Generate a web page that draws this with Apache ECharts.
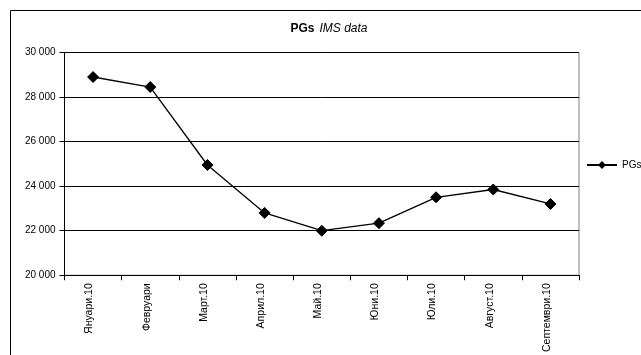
<!DOCTYPE html>
<html>
<head>
<meta charset="utf-8">
<script src="https://cdn.jsdelivr.net/npm/echarts@6/dist/echarts.min.js"></script>
<style>
  html, body { margin: 0; padding: 0; background: #fff; }
  #chart { width: 641px; height: 355px; }
</style>
</head>
<body>
<div id="chart"></div>
<script>
// Monthly PGs volumes (IMS data), 2010
const months = ['Януари.10', 'Февруари', 'Март.10', 'Април.10', 'Май.10', 'Юни.10', 'Юли.10', 'Август.10', 'Септември.10'];
const pgsValues = [28900, 28450, 24950, 22800, 22000, 22340, 23500, 23850, 23200];
const yTicks = [20000, 22000, 24000, 26000, 28000, 30000];

const font = '"Liberation Sans", Arial, sans-serif';
const fmt = v => {
  const s = String(Math.round(v));
  return s.replace(/\B(?=(\d{3})+(?!\d))/g, ' ');
};

const chart = echarts.init(document.getElementById('chart'), null, { renderer: 'canvas' });
chart.setOption({
  animation: false,
  backgroundColor: '#fff',
  textStyle: { fontFamily: font },
  title: {
    text: '{b|PGs} {i|IMS data}',
    left: 329,
    top: 20,
    padding: 0,
    textAlign: 'center',
    textStyle: {
      rich: {
        b: { fontFamily: font, fontWeight: 'bold', fontSize: 12, color: '#000' },
        i: { fontFamily: font, fontWeight: 'normal', fontStyle: 'italic', fontSize: 12, color: '#000' }
      }
    }
  },
  legend: {
    data: ['PGs'],
    left: 586,
    top: 160,
    padding: 0,
    itemWidth: 30,
    itemHeight: 10,
    itemGap: 5,
    textStyle: { fontFamily: font, fontSize: 10, color: '#000' }
  },
  grid: {
    left: 64.5,
    right: 62,
    top: 52.5,
    bottom: 76.5,
    show: true,
    borderColor: '#808080',
    borderWidth: 1,
    containLabel: false
  },
  xAxis: {
    type: 'category',
    data: months,
    boundaryGap: true,
    axisLine: { lineStyle: { color: '#000', width: 1 } },
    axisTick: { show: true, alignWithLabel: false, length: 5, lineStyle: { color: '#000' } },
    axisLabel: {
      rotate: 90,
      interval: 0,
      margin: 8,
      fontSize: 10.5,
      verticalAlign: 'bottom',
      padding: [0, 0, -2, 0],
      color: '#000',
      fontFamily: font
    }
  },
  yAxis: {
    type: 'value',
    min: yTicks[0],
    max: yTicks[yTicks.length - 1],
    interval: 2000,
    axisLine: { show: true, lineStyle: { color: '#000', width: 1 } },
    axisTick: { show: true, length: 5, lineStyle: { color: '#000' } },
    axisLabel: {
      margin: 9,
      fontSize: 10,
      color: '#000',
      fontFamily: font,
      formatter: fmt
    },
    splitLine: { show: true, lineStyle: { color: '#000', width: 1 } }
  },
  series: [{
    name: 'PGs',
    type: 'line',
    data: pgsValues,
    symbol: 'diamond',
    symbolSize: 11,
    showAllSymbol: true,
    lineStyle: { color: '#000', width: 1.3 },
    itemStyle: { color: '#000', borderColor: '#000' }
  }],
  graphic: [{
    type: 'rect',
    shape: { x: 10.5, y: 10.5, width: 700, height: 400 },
    style: { fill: null, stroke: '#000', lineWidth: 1 },
    silent: true,
    z: 100
  }]
});
</script>
</body>
</html>
